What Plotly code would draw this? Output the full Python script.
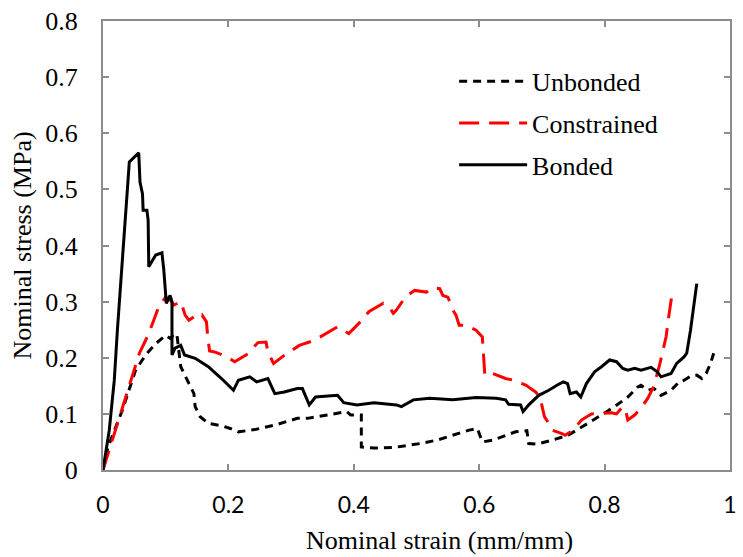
import plotly.graph_objects as go

# ---- Data ----
unbonded_x = [0.0, 0.008, 0.031, 0.052, 0.068, 0.084, 0.100, 0.108, 0.113, 0.118, 0.124, 0.134,
              0.145, 0.147, 0.155, 0.168, 0.189, 0.203, 0.216, 0.242, 0.274, 0.310, 0.326, 0.358,
              0.374, 0.389, 0.395, 0.412, 0.412, 0.432, 0.463, 0.505, 0.532, 0.558, 0.584, 0.597,
              0.605, 0.621, 0.642, 0.658, 0.676, 0.679, 0.692, 0.716, 0.742, 0.769, 0.795, 0.816,
              0.837, 0.853, 0.858, 0.869, 0.879, 0.890, 0.906, 0.919, 0.927, 0.937, 0.947, 0.955,
              0.962, 0.969, 0.974]
unbonded_y = [0.0, 0.041, 0.107, 0.178, 0.205, 0.225, 0.240, 0.234, 0.243, 0.240, 0.184, 0.160,
              0.136, 0.113, 0.095, 0.083, 0.079, 0.074, 0.068, 0.072, 0.080, 0.092, 0.092, 0.098,
              0.101, 0.104, 0.098, 0.098, 0.041, 0.039, 0.040, 0.047, 0.053, 0.062, 0.071, 0.074,
              0.050, 0.053, 0.062, 0.068, 0.070, 0.047, 0.046, 0.053, 0.062, 0.080, 0.098, 0.113,
              0.130, 0.148, 0.151, 0.142, 0.145, 0.133, 0.142, 0.157, 0.160, 0.167, 0.169, 0.163,
              0.172, 0.190, 0.208]

constrained_x = [0.0, 0.047, 0.058, 0.073, 0.089, 0.100, 0.108, 0.113, 0.124, 0.131, 0.137, 0.145,
                 0.152, 0.158, 0.165, 0.167, 0.170, 0.179, 0.197, 0.210, 0.231, 0.247, 0.260,
                 0.263, 0.272, 0.290, 0.313, 0.337, 0.374, 0.392, 0.405, 0.413, 0.424, 0.447,
                 0.458, 0.463, 0.468, 0.482, 0.497, 0.516, 0.526, 0.537, 0.542, 0.550, 0.553,
                 0.558, 0.563, 0.568, 0.579, 0.595, 0.605, 0.608, 0.609, 0.621, 0.632, 0.642,
                 0.655, 0.675, 0.682, 0.690, 0.697, 0.700, 0.704, 0.711, 0.716, 0.732, 0.737,
                 0.750, 0.763, 0.779, 0.795, 0.811, 0.819, 0.829, 0.834, 0.837, 0.848, 0.858,
                 0.869, 0.878, 0.887, 0.898, 0.903, 0.908]
constrained_y = [0.0, 0.166, 0.208, 0.243, 0.291, 0.308, 0.302, 0.294, 0.300, 0.276, 0.267, 0.273,
                 0.270, 0.276, 0.264, 0.237, 0.212, 0.210, 0.202, 0.193, 0.207, 0.227, 0.228,
                 0.210, 0.190, 0.205, 0.222, 0.231, 0.255, 0.243, 0.258, 0.267, 0.282, 0.297,
                 0.288, 0.279, 0.285, 0.308, 0.320, 0.317, 0.325, 0.323, 0.311, 0.308, 0.300,
                 0.285, 0.276, 0.258, 0.258, 0.249, 0.237, 0.196, 0.169, 0.172, 0.167, 0.163,
                 0.160, 0.151, 0.145, 0.139, 0.130, 0.113, 0.095, 0.083, 0.071, 0.065, 0.062,
                 0.071, 0.089, 0.100, 0.101, 0.102, 0.100, 0.113, 0.104, 0.089, 0.098, 0.110,
                 0.128, 0.148, 0.184, 0.237, 0.279, 0.317]

bonded_x = [0.0, 0.010, 0.018, 0.023, 0.042, 0.050, 0.057, 0.059, 0.063, 0.064, 0.070, 0.072,
            0.073, 0.084, 0.094, 0.097, 0.101, 0.107, 0.110, 0.110, 0.115, 0.124, 0.130, 0.147,
            0.168, 0.189, 0.208, 0.216, 0.234, 0.245, 0.263, 0.274, 0.289, 0.310, 0.318, 0.329,
            0.339, 0.374, 0.384, 0.405, 0.432, 0.468, 0.476, 0.495, 0.521, 0.558, 0.595, 0.627,
            0.642, 0.647, 0.666, 0.670, 0.679, 0.695, 0.711, 0.724, 0.734, 0.741, 0.745, 0.755,
            0.762, 0.771, 0.784, 0.795, 0.808, 0.819, 0.829, 0.837, 0.848, 0.858, 0.874, 0.884,
            0.890, 0.906, 0.915, 0.927, 0.931, 0.937, 0.942, 0.947]
bonded_y = [0.0, 0.071, 0.160, 0.250, 0.549, 0.557, 0.565, 0.513, 0.492, 0.463, 0.463, 0.445,
            0.362, 0.383, 0.387, 0.356, 0.297, 0.311, 0.300, 0.205, 0.217, 0.222, 0.205, 0.199,
            0.184, 0.163, 0.142, 0.160, 0.166, 0.157, 0.163, 0.136, 0.139, 0.145, 0.145, 0.116,
            0.130, 0.133, 0.120, 0.116, 0.120, 0.116, 0.113, 0.125, 0.128, 0.125, 0.129, 0.128,
            0.125, 0.117, 0.116, 0.104, 0.116, 0.133, 0.142, 0.151, 0.157, 0.154, 0.136, 0.139,
            0.130, 0.154, 0.175, 0.184, 0.196, 0.193, 0.181, 0.178, 0.181, 0.178, 0.183, 0.175,
            0.166, 0.172, 0.190, 0.202, 0.208, 0.249, 0.291, 0.332]

x_ticks = [0, 0.2, 0.4, 0.6, 0.8, 1]
x_tick_labels = ["0", "0.2", "0.4", "0.6", "0.8", "1"]
y_ticks = [0, 0.1, 0.2, 0.3, 0.4, 0.5, 0.6, 0.7, 0.8]
y_tick_labels = ["0", "0.1", "0.2", "0.3", "0.4", "0.5", "0.6", "0.7", "0.8"]
x_title = "Nominal strain (mm/mm)"
y_title = "Nominal stress (MPa)"

serif = "Liberation Serif"
frame = "#8c8c8c"

fig = go.Figure()
fig.add_trace(go.Scatter(x=unbonded_x, y=unbonded_y, mode="lines", name="Unbonded",
                         legendgroup="a",
                         line=dict(color="black", width=3, dash="8px,6px")))
fig.add_trace(go.Scatter(x=constrained_x, y=constrained_y, mode="lines", name="Constrained",
                         legendgroup="b",
                         line=dict(color="#ff0000", width=3, dash="20px,10px")))
fig.add_trace(go.Scatter(x=bonded_x, y=bonded_y, mode="lines", name="Bonded",
                         legendgroup="c",
                         line=dict(color="black", width=3)))

fig.update_layout(
    width=743, height=557,
    margin=dict(l=103, r=6, t=21, b=87),
    paper_bgcolor="white", plot_bgcolor="white",
    showlegend=True,
    legend=dict(x=0.56, y=0.918, xanchor="left", yanchor="top",
                font=dict(family=serif, size=26, color="black"),
                bgcolor="rgba(0,0,0,0)", tracegroupgap=5, traceorder="grouped",
                itemwidth=68),
    xaxis=dict(range=[0, 1], tickvals=x_ticks, ticktext=x_tick_labels,
               showgrid=False, zeroline=False,
               showline=True, linecolor=frame, linewidth=2, mirror="ticks",
               ticks="inside", ticklen=6, tickcolor=frame, tickwidth=2,
               tickfont=dict(family="Lato", size=23, color="black"),
               ticklabelstandoff=13),
    yaxis=dict(range=[0, 0.8], tickvals=y_ticks, ticktext=y_tick_labels,
               showgrid=False, zeroline=False,
               showline=True, linecolor=frame, linewidth=2, mirror="ticks",
               ticks="inside", ticklen=6, tickcolor=frame, tickwidth=2,
               tickfont=dict(family=serif, size=26, color="black"),
               ticklabelstandoff=18,
               title=dict(text=y_title, standoff=6,
                          font=dict(family=serif, size=26, color="black"))),
    annotations=[dict(text=x_title, xref="paper", yref="paper", x=0.536, y=-0.158,
                      xanchor="center", yanchor="middle", showarrow=False,
                      font=dict(family=serif, size=26, color="black"))],
)

fig.write_html("out.html")
